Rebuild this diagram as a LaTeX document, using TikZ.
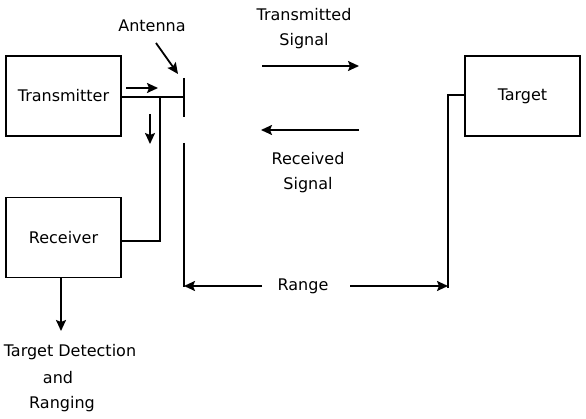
\documentclass[tikz,border=0pt]{standalone}
\usepackage{fontspec}
\setmainfont{DejaVu Sans}
\usetikzlibrary{arrows.meta}
\begin{document}
\begin{tikzpicture}[x=1pt,y=-1pt,
  blk/.style={draw,line width=1.8pt,minimum width=115pt,minimum height=80pt,inner sep=0pt},
  lbl/.style={inner sep=0pt,font=\fontsize{16}{19}\selectfont},
  wire/.style={line width=1.8pt},
  arr/.style={line width=1.8pt,-{Stealth[length=11pt,width=10pt,inset=2pt]}}]
\useasboundingbox (0,0) rectangle (586,419);
\node[blk] (tx) at (63.5,96) {};
\node[lbl] at (tx.center) {Transmitter};
\node[blk] (tg) at (522.5,96) {};
\node[lbl] at (tg.center) {Target};
\node[blk] (rx) at (63.5,237.5) {};
\node[lbl] at (rx.center) {Receiver};
% antenna
\coordinate (a1) at (184,78);
\coordinate (a2) at (184,117);
\coordinate (a3) at (184,143);
\coordinate (a4) at (184,287);
\draw[wire] (a1) -- (a2);
\draw[wire] (a3) -- (a4);
\coordinate (jn) at (184,97);
\draw[wire] (tx.east |- jn) -- (jn);
\coordinate (j2) at (160,97);
\coordinate (j3) at (160,241);
\draw[wire] (j2) -- (j3) -- (rx.east |- j3);
% small arrows
\coordinate (s1) at (126,88); \coordinate (s2) at (158,88);
\draw[arr] (s1) -- (s2);
\coordinate (d1) at (150,114); \coordinate (d2) at (150,144);
\draw[arr] (d1) -- (d2);
% antenna label
\node[lbl] (ant) at (152,26) {Antenna};
\coordinate (p1) at (156,43); \coordinate (p2) at (178,74);
\draw[arr] (p1) -- (p2);
% signals
\node[lbl] (ts1) at (304,15) {Transmitted};
\node[lbl] (ts2) at (304,41) {Signal};
\coordinate (t1) at (262,66); \coordinate (t2) at (359,66);
\draw[arr] (t1) -- (t2);
\coordinate (r1) at (359,130); \coordinate (r2) at (261,130);
\draw[arr] (r1) -- (r2);
\node[lbl] (rs1) at (308,159) {Received};
\node[lbl] (rs2) at (308,185) {Signal};
% target wire
\coordinate (g1) at (448,95);
\coordinate (g2) at (448,288);
\draw[wire] (tg.west |- g1) -- (g1) -- (g2);
% range
\node[lbl] (rng) at (303,286) {Range};
\coordinate (ra) at (262,286); \coordinate (rb) at (184,286);
\coordinate (rc) at (350,286); \coordinate (rd) at (448,286);
\draw[arr] (ra) -- (rb);
\draw[arr] (rc) -- (rd);
% output
\coordinate (o1) at (61,331);
\draw[arr] (rx.south -| o1) -- (o1);
\node[lbl] (td1) at (70,352) {Target Detection};
\node[lbl] (td2) at (58,378) {and};
\node[lbl] (td3) at (62,404) {Ranging};
\end{tikzpicture}
\end{document}
